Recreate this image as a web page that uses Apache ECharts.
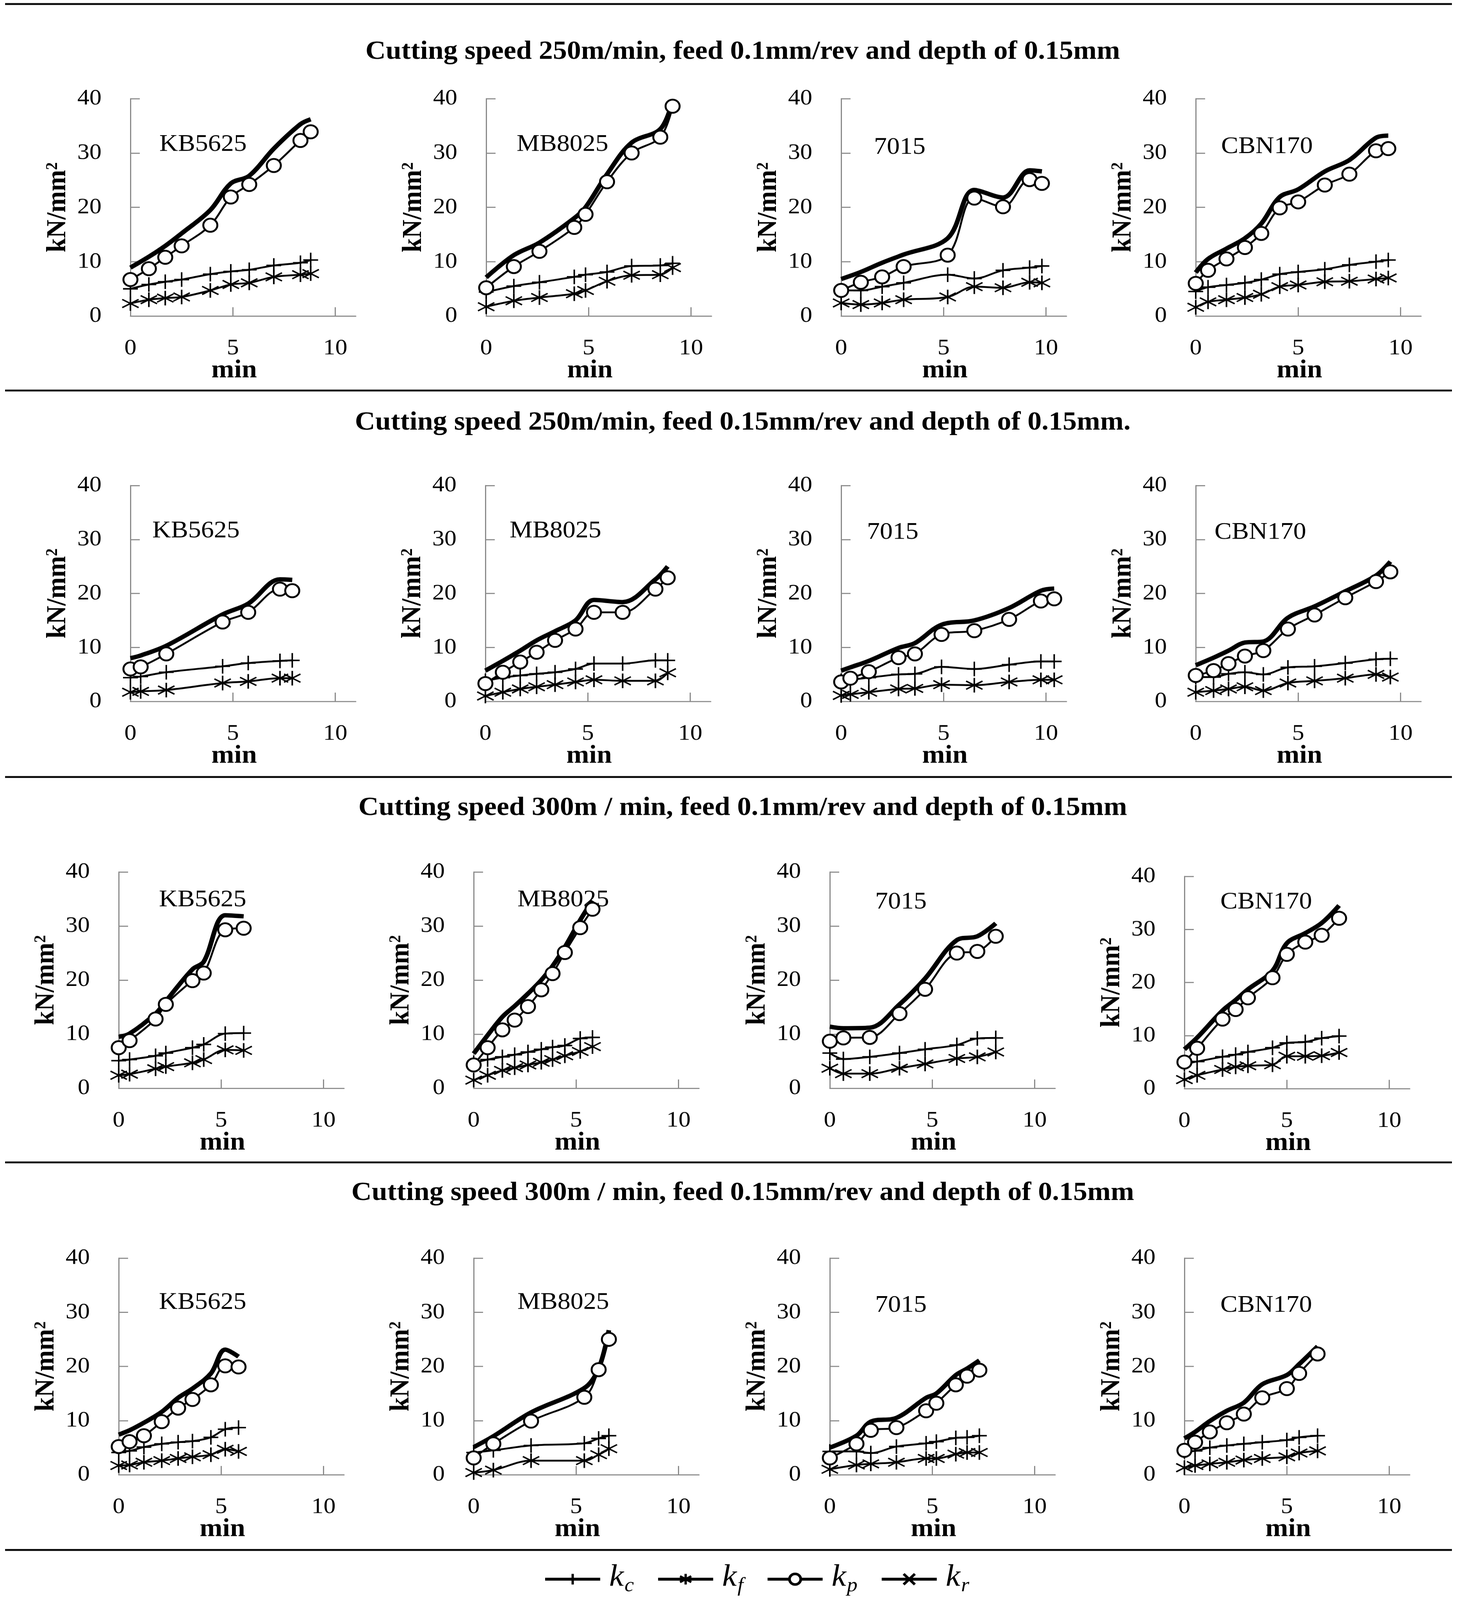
<!DOCTYPE html>
<html>
<head>
<meta charset="utf-8">
<title>Specific cutting forces</title>
<script src="https://cdn.jsdelivr.net/npm/echarts@6/dist/echarts.min.js"></script>
<style>
html,body{margin:0;padding:0;background:#fff;}
#main{width:3731px;height:4380px;}
</style>
</head>
<body>
<div id="main"></div>
<script>
// row headings and insert names
var rowTitles = [
    'Cutting speed 250m/min, feed 0.1mm/rev and depth of 0.15mm',
    'Cutting speed 250m/min, feed 0.15mm/rev and depth of 0.15mm.',
    'Cutting speed 300m / min, feed 0.1mm/rev and depth of 0.15mm',
    'Cutting speed 300m / min, feed 0.15mm/rev and depth of 0.15mm'
];
var inserts = ['KB5625', 'MB8025', '7015', 'CBN170'];
var xTicks = [0, 5, 10];
var xInnerTicks = [5, 10];

// row 1: 250 m/min, 0.1 mm/rev
var t11  = [0, 0.9, 1.7, 2.5, 3.9, 4.9, 5.8, 7.0, 8.3, 8.8];
var kc11 = [5.0, 5.8, 6.3, 6.7, 7.7, 8.2, 8.5, 9.3, 9.8, 10.3];
var kf11 = [2.3, 3.0, 3.3, 3.5, 4.7, 5.8, 6.1, 7.2, 7.6, 7.8];
var kp11 = [6.7, 8.7, 10.8, 12.9, 16.7, 21.9, 24.2, 27.7, 32.3, 33.9];
var kr11 = [8.9, 10.9, 12.9, 15.2, 19.5, 24.4, 25.8, 30.8, 35.3, 36.2];

var t12  = [0, 1.35, 2.6, 4.3, 4.85, 5.9, 7.1, 8.5, 9.1];
var kc12 = [4.4, 5.5, 6.2, 7.2, 7.6, 8.1, 9.2, 9.3, 9.7];
var kf12 = [1.7, 2.8, 3.4, 4.1, 4.7, 6.4, 7.5, 7.6, 8.9];
var kp12 = [5.2, 9.1, 11.9, 16.3, 18.7, 24.7, 30.0, 32.9, 38.6];
var kr12 = [7.1, 11.2, 13.5, 18.0, 20.0, 26.1, 31.9, 34.4, 39.6];

var t13  = [0, 0.96, 2.0, 3.05, 5.2, 6.5, 7.9, 9.2, 9.8];
var kc13 = [4.7, 4.7, 5.4, 6.1, 7.6, 6.9, 8.4, 8.9, 9.2];
var kf13 = [2.4, 2.1, 2.4, 3.0, 3.5, 5.4, 5.2, 6.2, 6.1];
var kp13 = [4.7, 6.2, 7.2, 9.1, 11.2, 21.7, 20.1, 25.1, 24.4];
var kr13 = [6.8, 8.1, 9.8, 11.3, 14.3, 23.2, 21.8, 26.8, 26.6];

var t14  = [0, 0.6, 1.5, 2.4, 3.2, 4.1, 5.0, 6.3, 7.5, 8.8, 9.4];
var kc14 = [4.5, 5.3, 5.7, 6.1, 6.7, 7.7, 8.1, 8.6, 9.4, 10.0, 10.3];
var kf14 = [1.6, 2.6, 3.0, 3.4, 4.0, 5.4, 5.7, 6.3, 6.4, 6.8, 7.0];
var kp14 = [6.0, 8.4, 10.5, 12.6, 15.2, 19.9, 21.0, 24.1, 26.1, 30.4, 30.8];
var kr14 = [8.0, 10.5, 12.4, 14.3, 17.0, 21.9, 23.3, 26.6, 28.7, 32.8, 33.2];

// row 2: 250 m/min, 0.15 mm/rev
var t21  = [0, 0.5, 1.75, 4.5, 5.75, 7.3, 7.9];
var kc21 = [4.4, 4.6, 5.4, 6.5, 7.1, 7.5, 7.6];
var kf21 = [1.7, 1.85, 2.1, 3.4, 3.7, 4.3, 4.3];
var kp21 = [6.0, 6.4, 8.8, 14.7, 16.5, 20.8, 20.5];
var kr21 = [8.0, 8.5, 10.3, 16.1, 18.1, 22.6, 22.5];

var t22  = [0, 0.85, 1.7, 2.5, 3.4, 4.4, 5.3, 6.7, 8.3, 8.9];
var kc22 = [3.8, 4.4, 4.8, 5.1, 5.4, 6.0, 7.0, 7.0, 7.6, 7.6];
var kf22 = [1.0, 1.7, 2.3, 2.7, 3.1, 3.6, 4.0, 3.8, 3.8, 5.3];
var kp22 = [3.3, 5.4, 7.3, 9.1, 11.3, 13.4, 16.5, 16.5, 20.8, 22.9];
var kr22 = [5.7, 7.5, 9.4, 11.3, 13.0, 15.0, 18.8, 18.4, 22.6, 25.0];

var t23  = [0, 0.45, 1.35, 2.8, 3.6, 4.9, 6.5, 8.2, 9.75, 10.4];
var kc23 = [3.8, 4.0, 4.4, 5.0, 5.1, 6.4, 6.0, 6.8, 7.4, 7.4];
var kf23 = [1.1, 1.3, 1.7, 2.3, 2.4, 3.1, 3.0, 3.6, 4.0, 4.0];
var kp23 = [3.6, 4.3, 5.5, 8.1, 8.8, 12.4, 13.1, 15.2, 18.6, 19.0];
var kr23 = [5.7, 6.3, 7.5, 9.9, 10.8, 14.2, 15.0, 17.3, 20.5, 20.9];

var t24  = [0, 0.87, 1.6, 2.4, 3.3, 4.5, 5.8, 7.3, 8.8, 9.5];
var kc24 = [4.5, 4.5, 5.1, 5.4, 5.0, 6.3, 6.5, 7.1, 7.8, 7.9];
var kf24 = [1.7, 2.0, 2.3, 2.7, 2.0, 3.4, 3.8, 4.3, 5.0, 4.5];
var kp24 = [4.8, 5.7, 7.0, 8.4, 9.4, 13.4, 16.0, 19.2, 22.2, 24.0];
var kr24 = [6.7, 8.1, 9.4, 10.9, 11.1, 15.5, 17.6, 20.4, 23.3, 25.9];

// row 3: 300 m/min, 0.1 mm/rev
var t31  = [0, 0.53, 1.8, 2.3, 3.6, 4.15, 5.2, 6.1];
var kc31 = [5.1, 5.3, 6.0, 6.5, 7.5, 8.1, 10.1, 10.2];
var kf31 = [2.4, 2.6, 3.6, 4.0, 4.7, 5.3, 7.1, 7.0];
var kp31 = [7.5, 8.8, 12.8, 15.5, 19.9, 21.3, 29.3, 29.6];
var kr31 = [9.5, 10.1, 13.8, 16.1, 22.0, 23.4, 32.0, 31.8];

var t32  = [0, 0.68, 1.4, 2.0, 2.65, 3.3, 3.85, 4.45, 5.2, 5.8];
var kc32 = [4.7, 5.3, 5.8, 6.2, 6.7, 7.2, 7.6, 7.9, 9.2, 9.4];
var kf32 = [1.5, 2.4, 3.3, 3.8, 4.3, 4.8, 5.3, 6.0, 6.8, 7.7];
var kp32 = [4.3, 7.5, 10.8, 12.6, 15.1, 18.2, 21.2, 25.1, 29.7, 33.1];
var kr32 = [6.4, 9.8, 13.2, 15.2, 17.5, 20.0, 22.6, 26.1, 31.1, 34.7];

var t33  = [0, 0.66, 1.95, 3.4, 4.65, 6.2, 7.2, 8.1];
var kc33 = [6.5, 5.4, 5.8, 6.5, 7.2, 8.0, 9.2, 9.3];
var kf33 = [3.7, 2.7, 2.7, 3.7, 4.5, 5.5, 5.8, 6.7];
var kp33 = [8.7, 9.3, 9.4, 13.8, 18.3, 25.0, 25.3, 28.1];
var kr33 = [11.4, 11.1, 11.2, 15.5, 20.3, 27.4, 28.1, 30.5];

var t34  = [0, 0.62, 1.86, 2.5, 3.1, 4.3, 5.0, 5.9, 6.7, 7.55];
var kc34 = [4.6, 5.1, 6.0, 6.4, 6.9, 7.7, 8.6, 8.8, 9.5, 9.9];
var kf34 = [1.7, 2.5, 3.6, 4.1, 4.3, 4.5, 6.1, 6.1, 6.2, 6.8];
var kp34 = [5.0, 7.6, 13.1, 14.9, 17.1, 20.9, 25.3, 27.6, 28.9, 32.1];
var kr34 = [7.4, 9.6, 14.7, 16.7, 18.7, 22.2, 27.4, 29.3, 31.2, 34.5];

// row 4: 300 m/min, 0.15 mm/rev
var t41  = [0, 0.53, 1.23, 2.1, 2.9, 3.6, 4.5, 5.2, 5.85];
var kc41 = [4.1, 4.4, 5.1, 5.7, 6.0, 6.2, 6.9, 8.4, 8.7];
var kf41 = [1.7, 1.8, 2.3, 2.6, 3.0, 3.3, 3.7, 4.7, 4.3];
var kp41 = [5.2, 6.1, 7.2, 9.8, 12.3, 13.9, 16.6, 20.1, 19.9];
var kr41 = [7.4, 8.2, 9.6, 11.6, 14.2, 15.9, 18.7, 23.1, 21.8];

var t42  = [0, 0.96, 2.8, 5.4, 6.1, 6.6];
var kc42 = [4.1, 4.5, 5.4, 5.8, 6.7, 7.2];
var kf42 = [0.4, 0.85, 2.6, 2.6, 3.7, 4.8];
var kp42 = [3.1, 5.7, 9.9, 14.3, 19.4, 25.0];
var kr42 = [5.1, 7.1, 11.5, 16.0, 19.6, 26.7];

var t43  = [0, 1.3, 2.0, 3.25, 4.7, 5.2, 6.15, 6.7, 7.3];
var kc43 = [4.3, 4.3, 4.0, 5.2, 5.8, 6.1, 6.8, 6.9, 7.2];
var kf43 = [1.0, 1.8, 2.0, 2.3, 3.0, 3.0, 3.8, 4.1, 4.1];
var kp43 = [3.1, 5.7, 8.2, 8.7, 11.8, 13.2, 16.6, 18.2, 19.3];
var kr43 = [5.0, 7.2, 9.8, 10.5, 14.2, 15.0, 18.4, 19.6, 21.1];

var t44  = [0, 0.52, 1.24, 2.07, 2.9, 3.8, 5.0, 5.6, 6.5];
var kc44 = [4.3, 4.4, 5.0, 5.4, 5.7, 6.0, 6.4, 6.9, 7.2];
var kf44 = [1.3, 1.7, 2.0, 2.3, 2.7, 3.0, 3.3, 4.0, 4.4];
var kp44 = [4.5, 6.0, 7.9, 9.6, 11.2, 14.2, 15.9, 18.7, 22.3];
var kr44 = [6.7, 7.9, 9.9, 11.8, 13.3, 16.7, 18.4, 20.4, 23.7];

var panels = [
    [t11, kc11, kf11, kp11, kr11], [t12, kc12, kf12, kp12, kr12], [t13, kc13, kf13, kp13, kr13], [t14, kc14, kf14, kp14, kr14],
    [t21, kc21, kf21, kp21, kr21], [t22, kc22, kf22, kp22, kr22], [t23, kc23, kf23, kp23, kr23], [t24, kc24, kf24, kp24, kr24],
    [t31, kc31, kf31, kp31, kr31], [t32, kc32, kf32, kp32, kr32], [t33, kc33, kf33, kp33, kr33], [t34, kc34, kf34, kp34, kr34],
    [t41, kc41, kf41, kp41, kr41], [t42, kc42, kf42, kp42, kr42], [t43, kc43, kf43, kp43, kr43], [t44, kc44, kf44, kp44, kr44]
];

// layout (pixels on the 3731 x 4380 page)
var PAGE_W = 3731, PAGE_H = 4380;
var gridLeft = [[334, 1245, 2154, 3062], [334, 1243, 2154, 3062], [304, 1213, 2125, 3033], [304, 1213, 2125, 3033]];
var gridTop  = [[270, 270, 270, 270], [1329, 1329, 1329, 1329], [2387, 2387, 2387, 2399], [3444, 3444, 3444, 3444]];
var gridH    = [[595, 595, 595, 595], [591, 591, 591, 591], [592, 592, 592, 581], [593, 593, 593, 593]];
var labelX   = [[408, 1323, 2238, 3127], [390, 1305, 2220, 3110], [407, 1325, 2241, 3125], [407, 1325, 2241, 3125]];
var labelY   = [[396, 396, 404, 402], [1454, 1454, 1458, 1458], [2464, 2464, 2470, 2470], [3566, 3566, 3574, 3574]];
var titleY   = [142, 1157, 2212, 3266];
var ruleY    = [11, 1069, 2127, 3182, 4243];

var SERIF = '"Liberation Serif", "Times New Roman", serif';
var AXIS_GREY = '#8a8a8a';
var plusPath  = 'path://M0,5L10,5M5,0L5,10';
var starPath  = 'path://M5,0L5,10M0,2.2L10,7.8M0,7.8L10,2.2';
var crossPath = 'path://M0,0L10,10M0,10L10,0';

function pairs(t, v) {
    return t.map(function (x, j) { return [x, v[j]]; });
}

// the visible area can be shorter than the page: squeeze the page to fit
var mainEl = document.getElementById('main');
var vh = window.innerHeight || PAGE_H;
if (vh < PAGE_H) {
    mainEl.style.transformOrigin = '0 0';
    mainEl.style.transform = 'scale(1,' + (vh / PAGE_H) + ')';
    document.body.style.height = vh + 'px';
    document.body.style.overflow = 'hidden';
    document.documentElement.style.overflow = 'hidden';
}

var chart = echarts.init(mainEl, null, {renderer: 'canvas', width: PAGE_W, height: PAGE_H});

var grids = [], xAxes = [], yAxes = [], series = [], graphics = [];

for (var r = 0; r < 4; r++) {
    for (var c = 0; c < 4; c++) {
        var i = r * 4 + c;
        var p = panels[i];
        grids.push({
            left: gridLeft[r][c], top: gridTop[r][c], width: 577, height: gridH[r][c],
            outerBoundsMode: 'none'
        });
        xAxes.push({
            gridIndex: i, type: 'value', min: 0, max: 11, interval: 5,
            name: 'min', nameLocation: 'middle', nameGap: 115, nameMoveOverlap: false,
            nameTextStyle: {fontFamily: SERIF, fontWeight: 'bold', fontSize: 70, color: '#000', padding: [0, 46, 0, 0]},
            axisLine: {lineStyle: {color: AXIS_GREY, width: 3}},
            axisTick: {show: true, inside: true, length: 24, customValues: xInnerTicks, lineStyle: {color: AXIS_GREY, width: 3}},
            axisLabel: {
                customValues: xTicks, margin: 58, fontFamily: SERIF, fontSize: 62, color: '#000',
                formatter: function (v) { return v % 5 === 0 ? String(v) : ''; }
            },
            splitLine: {show: false}
        });
        yAxes.push({
            gridIndex: i, type: 'value', min: 0, max: 40, interval: 10,
            name: '{a|kN/mm}{b|2}', nameLocation: 'middle', nameRotate: 90, nameGap: 150, nameMoveOverlap: false,
            nameTextStyle: {
                color: '#000',
                rich: {
                    a: {fontFamily: SERIF, fontWeight: 'bold', fontSize: 70, color: '#000', verticalAlign: 'top'},
                    b: {fontFamily: SERIF, fontWeight: 'bold', fontSize: 42, color: '#000', verticalAlign: 'top'}
                }
            },
            axisLine: {show: true, lineStyle: {color: AXIS_GREY, width: 3}},
            axisTick: {show: true, inside: true, length: 24, lineStyle: {color: AXIS_GREY, width: 3}},
            axisLabel: {margin: 74, fontFamily: SERIF, fontSize: 62, color: '#000'},
            splitLine: {show: false}
        });

        series.push({
            name: 'kc', type: 'line', xAxisIndex: i, yAxisIndex: i, data: pairs(p[0], p[1]),
            smooth: 0.35, symbol: plusPath, symbolSize: [38, 40],
            lineStyle: {color: '#000', width: 5},
            itemStyle: {color: 'rgba(0,0,0,0)', borderColor: '#000', borderWidth: 4}
        });
        series.push({
            name: 'kf', type: 'line', xAxisIndex: i, yAxisIndex: i, data: pairs(p[0], p[2]),
            smooth: 0.35, symbol: starPath, symbolSize: [42, 40],
            lineStyle: {color: '#000', width: 5},
            itemStyle: {color: 'rgba(0,0,0,0)', borderColor: '#000', borderWidth: 4}
        });
        series.push({
            name: 'kr', type: 'line', xAxisIndex: i, yAxisIndex: i, data: pairs(p[0], p[4]),
            smooth: 0.35, symbol: crossPath, symbolSize: 30, showSymbol: false,
            lineStyle: {color: '#000', width: 12},
            itemStyle: {color: 'rgba(0,0,0,0)', borderColor: '#000', borderWidth: 5}
        });
        series.push({
            name: 'kp', type: 'line', xAxisIndex: i, yAxisIndex: i, data: pairs(p[0], p[3]),
            smooth: 0.35, symbol: 'circle', symbolSize: 36,
            lineStyle: {color: '#000', width: 5},
            itemStyle: {color: '#fff', borderColor: '#000', borderWidth: 5}
        });

        // insert name inside each panel
        graphics.push({
            type: 'text', x: labelX[r][c], y: labelY[r][c], silent: true,
            style: {text: inserts[c], font: '66px ' + SERIF, fill: '#000', align: 'left', verticalAlign: 'middle'}
        });
    }
    graphics.push({
        type: 'text', x: 1902, y: titleY[r], silent: true,
        style: {text: rowTitles[r], font: 'bold 72px ' + SERIF, fill: '#000', align: 'center', verticalAlign: 'middle'}
    });
}

// horizontal rules between rows
ruleY.forEach(function (y) {
    graphics.push({
        type: 'line', silent: true,
        shape: {x1: 13, y1: y, x2: 3718, y2: y},
        style: {stroke: '#000', lineWidth: 5}
    });
});

var option = {
    backgroundColor: '#fff',
    animation: false,
    grid: grids,
    xAxis: xAxes,
    yAxis: yAxes,
    series: series,
    graphic: graphics,
    legend: {
        data: [
            {name: 'kc', itemStyle: {borderWidth: 6}},
            {name: 'kf', itemStyle: {borderWidth: 6}},
            {name: 'kp', itemStyle: {borderWidth: 7}},
            {name: 'kr', itemStyle: {borderWidth: 7}}
        ],
        left: 1387, top: 4272,
        itemWidth: 141, itemHeight: 36, itemGap: 58,
        selectedMode: false,
        lineStyle: {width: 8},
        formatter: function (name) {
            return '{k|k}{s|' + name.slice(1) + '}';
        },
        textStyle: {
            rich: {
                k: {fontFamily: SERIF, fontStyle: 'italic', fontSize: 84, color: '#000', verticalAlign: 'top', padding: [0, 0, 0, 18]},
                s: {fontFamily: SERIF, fontStyle: 'italic', fontSize: 54, color: '#000', verticalAlign: 'top', padding: [38, 0, 0, 2]}
            }
        }
    }
};

chart.setOption(option);
</script>
</body>
</html>
